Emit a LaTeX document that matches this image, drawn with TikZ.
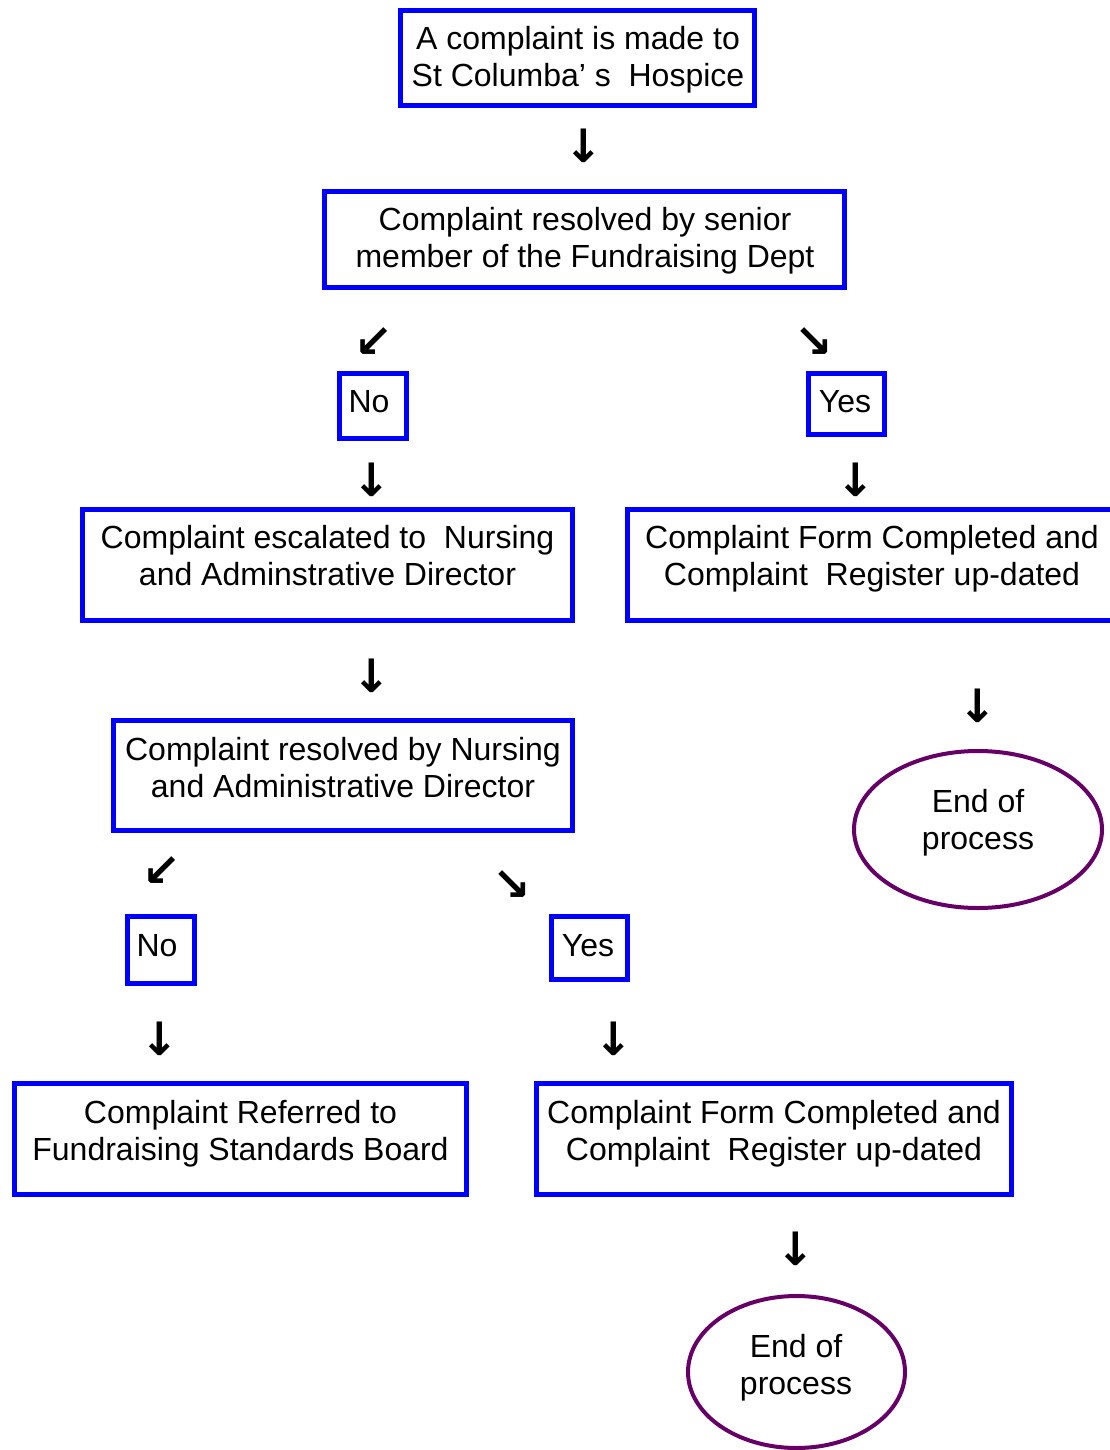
\documentclass[tikz,border=0pt]{standalone}
\usepackage{fontspec}
\setmainfont{Liberation Sans}
\newfontfamily\arrowfont{DejaVu Sans}
\usetikzlibrary{shapes.geometric}
\definecolor{endpurple}{RGB}{102,0,102}

\tikzset{
  flowbox/.style={draw=blue,line width=5pt,rectangle,inner sep=0pt},
  endbox/.style={draw=endpurple,line width=4pt,ellipse,inner sep=0pt},
  boxtext/.style={align=center,inner sep=0pt,text depth=0pt},
  glyph/.style={font=\arrowfont\bfseries\fontsize{46}{46}\selectfont,inner sep=0pt}
}

\begin{document}
\begin{tikzpicture}[x=1pt,y=-1pt,font=\fontsize{32}{37}\selectfont]
\useasboundingbox (0,0) rectangle (1109,1450);

\node[flowbox,minimum width=354pt,minimum height=95pt] (made) at (577.5,58) {};
\node[boxtext] (made txt) at (578,56.5) {A complaint is made to\\St Columba’ s\ \ Hospice};
\node[glyph] (a1) at (584,145.5) {↓};

\node[flowbox,minimum width=520pt,minimum height=96pt] (senior) at (584.5,239.5) {};
\node[boxtext] (senior txt) at (585,237.5) {Complaint resolved by senior\\member of the Fundraising Dept};
\node[glyph] (a2) at (374,343) {↙};
\node[glyph] (a3) at (813.5,342.5) {↘};

\node[flowbox,minimum width=67pt,minimum height=65pt] (no1) at (373,406) {};
\node[boxtext] (no1 txt) at (369,401) {No};
\node[flowbox,minimum width=76pt,minimum height=61pt] (yes1) at (846.5,404) {};
\node[boxtext] (yes1 txt) at (845,401) {Yes};
\node[glyph] (a4) at (372,479.5) {↓};
\node[glyph] (a5) at (856,479.5) {↓};

\node[flowbox,minimum width=490pt,minimum height=111pt] (escalated) at (327.5,565) {};
\node[boxtext] (escalated txt) at (327.5,555.5) {Complaint escalated to\ \ Nursing\\and Adminstrative Director};
\node[flowbox,minimum width=488pt,minimum height=111pt] (formone) at (871.5,565) {};
\node[boxtext] (formone txt) at (872,555.5) {Complaint Form Completed and\\Complaint\ \ Register up-dated};
\node[glyph] (a6) at (372,676) {↓};
\node[glyph] (a7) at (978,706) {↓};

\node[flowbox,minimum width=459pt,minimum height=110pt] (director) at (343,775.5) {};
\node[boxtext] (director txt) at (343,767.5) {Complaint resolved by Nursing\\and Administrative Director};
\node[endbox,minimum width=248pt,minimum height=157pt] (endone) at (978,829.5) {};
\node[boxtext] (endone txt) at (978,819.5) {End of\\process};
\node[glyph] (a8) at (162,872) {↙};
\node[glyph] (a9) at (512,886) {↘};

\node[flowbox,minimum width=67pt,minimum height=67pt] (no2) at (161,950) {};
\node[boxtext] (no2 txt) at (157,945) {No};
\node[flowbox,minimum width=76pt,minimum height=63pt] (yes2) at (589.5,948) {};
\node[boxtext] (yes2 txt) at (588,945) {Yes};
\node[glyph] (a10) at (160,1039) {↓};
\node[glyph] (a11) at (614,1039) {↓};

\node[flowbox,minimum width=452pt,minimum height=111pt] (referred) at (240.5,1139) {};
\node[boxtext] (referred txt) at (240.5,1130) {Complaint Referred to\\Fundraising Standards Board};
\node[flowbox,minimum width=475pt,minimum height=111pt] (formtwo) at (774,1139) {};
\node[boxtext] (formtwo txt) at (774,1130) {Complaint Form Completed and\\Complaint\ \ Register up-dated};
\node[glyph] (a12) at (796,1249) {↓};

\node[endbox,minimum width=217pt,minimum height=152pt] (endtwo) at (796.5,1372) {};
\node[boxtext] (endtwo txt) at (796,1364.5) {End of\\process};
\end{tikzpicture}
\end{document}
